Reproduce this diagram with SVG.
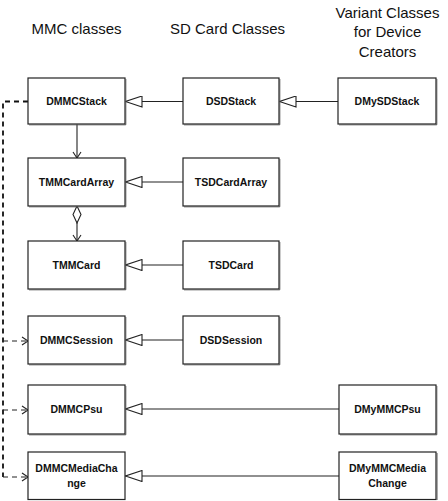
<svg xmlns="http://www.w3.org/2000/svg" width="448" height="501" viewBox="0 0 448 501">
<style>
.hdr{font-family:"Liberation Sans",Arial,sans-serif;font-size:15px;fill:#111;text-anchor:middle}
.lbl{font-family:"Liberation Sans",Arial,sans-serif;font-size:10.5px;font-weight:bold;fill:#111;text-anchor:middle}
.box{fill:#fff;stroke:#222;stroke-width:1.2}
.sh{fill:none;stroke:#555;stroke-width:1}
.ln{fill:none;stroke:#222;stroke-width:1.1}
.dash{fill:none;stroke:#111;stroke-width:1.8;stroke-dasharray:5,4}
.dsh{fill:none;stroke:#222;stroke-width:1;stroke-dasharray:5,4}
</style>
<defs>
<marker id="tri" markerWidth="18" markerHeight="12" refX="17" refY="6" orient="auto" markerUnits="userSpaceOnUse" viewBox="0 0 18 12">
<path d="M17,6 L0.5,0.5 L0.5,11.5 Z" fill="#fff" stroke="#222" stroke-width="1.1"/>
</marker>
<marker id="open" markerWidth="8" markerHeight="10" refX="7" refY="5" orient="auto" markerUnits="userSpaceOnUse" viewBox="0 0 8 10">
<path d="M1,1 L7,5 L1,9" fill="none" stroke="#222" stroke-width="1.1"/>
</marker>
<marker id="dia" markerWidth="10" markerHeight="18" refX="5" refY="0.5" orient="0" markerUnits="userSpaceOnUse" viewBox="0 0 10 18">
<path d="M5,0.5 L9,9 L5,17.5 L1,9 Z" fill="#fff" stroke="#222" stroke-width="1.1"/>
</marker>
</defs>
<g id="headers">
<text class="hdr" x="76.5" y="34">MMC classes</text>
<text class="hdr" x="227.5" y="34">SD Card Classes</text>
<text class="hdr" x="387.5" y="17.5">Variant Classes</text>
<text class="hdr" x="387.5" y="37">for Device</text>
<text class="hdr" x="387.5" y="56.5">Creators</text>
</g>
<g id="connectors">
<line class="ln" x1="183" y1="101.5" x2="125.5" y2="101.5" marker-end="url(#tri)"/>
<line class="ln" x1="338" y1="101.5" x2="279.5" y2="101.5" marker-end="url(#tri)"/>
<line class="ln" x1="183" y1="182" x2="125.5" y2="182" marker-end="url(#tri)"/>
<line class="ln" x1="183" y1="265" x2="125.5" y2="265" marker-end="url(#tri)"/>
<line class="ln" x1="183" y1="340" x2="125.5" y2="340" marker-end="url(#tri)"/>
<line class="ln" x1="339" y1="409" x2="125.5" y2="409" marker-end="url(#tri)"/>
<line class="ln" x1="339" y1="476" x2="125.5" y2="476" marker-end="url(#tri)"/>
<line class="ln" x1="77" y1="124" x2="77" y2="158" marker-end="url(#open)"/>
<line class="ln" x1="77" y1="206" x2="77" y2="241" marker-start="url(#dia)" marker-end="url(#open)"/>
<path class="dash" d="M28,101.5 H3 V477"/>
<line class="dsh" x1="3" y1="341" x2="28" y2="341" marker-end="url(#open)"/>
<line class="dsh" x1="3" y1="410" x2="28" y2="410" marker-end="url(#open)"/>
<line class="dsh" x1="3" y1="477" x2="28" y2="477" marker-end="url(#open)"/>
</g>
<g id="DMMCStack"><rect class="box" x="28" y="78" width="97" height="46"/><path class="sh" d="M29,124.8 H125.8 V79"/><text class="lbl" x="76.5" y="105">DMMCStack</text></g>
<g id="DSDStack"><rect class="box" x="183" y="78" width="96" height="46"/><path class="sh" d="M184,124.8 H279.8 V79"/><text class="lbl" x="231" y="105">DSDStack</text></g>
<g id="DMySDStack"><rect class="box" x="338" y="78" width="98" height="46"/><path class="sh" d="M339,124.8 H436.8 V79"/><text class="lbl" x="387" y="105">DMySDStack</text></g>
<g id="TMMCardArray"><rect class="box" x="28" y="158" width="97" height="48"/><path class="sh" d="M29,206.8 H125.8 V159"/><text class="lbl" x="76.5" y="186">TMMCardArray</text></g>
<g id="TSDCardArray"><rect class="box" x="183" y="158" width="96" height="48"/><path class="sh" d="M184,206.8 H279.8 V159"/><text class="lbl" x="231" y="186">TSDCardArray</text></g>
<g id="TMMCard"><rect class="box" x="28" y="241" width="97" height="48"/><path class="sh" d="M29,289.8 H125.8 V242"/><text class="lbl" x="76.5" y="269">TMMCard</text></g>
<g id="TSDCard"><rect class="box" x="183" y="241" width="96" height="48"/><path class="sh" d="M184,289.8 H279.8 V242"/><text class="lbl" x="231" y="269">TSDCard</text></g>
<g id="DMMCSession"><rect class="box" x="28" y="316" width="97" height="48"/><path class="sh" d="M29,364.8 H125.8 V317"/><text class="lbl" x="76.5" y="344">DMMCSession</text></g>
<g id="DSDSession"><rect class="box" x="183" y="316" width="96" height="48"/><path class="sh" d="M184,364.8 H279.8 V317"/><text class="lbl" x="231" y="344">DSDSession</text></g>
<g id="DMMCPsu"><rect class="box" x="28" y="385" width="97" height="49"/><path class="sh" d="M29,434.8 H125.8 V386"/><text class="lbl" x="76.5" y="413">DMMCPsu</text></g>
<g id="DMyMMCPsu"><rect class="box" x="339" y="385" width="97" height="49"/><path class="sh" d="M340,434.8 H436.8 V386"/><text class="lbl" x="387.5" y="413">DMyMMCPsu</text></g>
<g id="DMMCMediaChange"><rect class="box" x="28" y="452" width="97" height="47.5"/><text class="lbl" x="76.5" y="472">DMMCMediaCha</text><text class="lbl" x="76.5" y="487">nge</text></g>
<g id="DMyMMCMediaChange"><rect class="box" x="339" y="452" width="97" height="47.5"/><path class="sh" d="M437,453 V500"/><text class="lbl" x="387.5" y="472">DMyMMCMedia</text><text class="lbl" x="387.5" y="487">Change</text></g>
</svg>
